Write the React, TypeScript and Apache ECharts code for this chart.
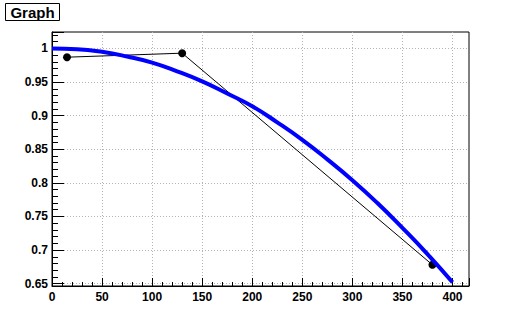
import React, { useEffect, useRef } from 'react';
import * as echarts from 'echarts';

// TGraph points
const graphX = [15, 130, 380];
const graphY = [0.987, 0.993, 0.678];

// Function curve, values
const curveX = [0, 25, 50, 75, 100, 125, 150, 175, 200, 225, 250, 275, 300, 325, 350, 375, 400];
const curveY = [1.0, 0.999, 0.995, 0.988, 0.979, 0.966, 0.951, 0.933, 0.914, 0.89, 0.864, 0.835, 0.804, 0.77, 0.733, 0.694, 0.652];

// Axis ranges and tick steps
const xRange = [0, 416.5];
const yRange = [0.6465, 1.0245];
const xStep = 50;
const yStep = 0.05;

const titleText = 'Graph';

export default function App() {
  const ref = useRef<HTMLDivElement>(null);

  useEffect(() => {
    document.body.style.margin = '0';
    const chart = echarts.init(ref.current as HTMLDivElement, null, { renderer: 'svg' });
    const font = 'Liberation Sans';
    const isMajor = (v: number, step: number) => Math.abs(v / step - Math.round(v / step)) < 1e-6;
    const gridLine = { show: true, showMinLine: false, showMaxLine: false, lineStyle: { color: '#b4b4b4', width: 1, type: [1, 2] } };
    const axisLine = { show: true, onZero: false, lineStyle: { color: '#000', width: 1 } };
    const label = { color: '#000', fontFamily: font, fontWeight: 'bold', fontSize: 12 };

    chart.setOption({
      animation: false,
      backgroundColor: '#ffffff',
      grid: {
        left: 52,
        top: 32,
        width: 417,
        height: 254,
        show: true,
        borderColor: '#000',
        borderWidth: 1,
        backgroundColor: 'transparent',
      },
      xAxis: {
        type: 'value',
        min: xRange[0],
        max: xRange[1],
        splitNumber: 8,
        axisLine,
        axisTick: { show: true, inside: true, length: 8, lineStyle: { color: '#000', width: 1 } },
        minorTick: { show: true, splitNumber: 5, length: 4, lineStyle: { color: '#000', width: 1 } },
        splitLine: gridLine,
        axisLabel: {
          ...label,
          margin: 5,
          formatter: (v: number) => (isMajor(v, xStep) ? String(Math.round(v)) : ''),
        },
      },
      yAxis: {
        type: 'value',
        min: yRange[0],
        max: yRange[1],
        splitNumber: 7,
        axisLine,
        axisTick: { show: true, inside: true, length: 12, lineStyle: { color: '#000', width: 1 } },
        minorTick: { show: true, splitNumber: 5, length: 6, lineStyle: { color: '#000', width: 1 } },
        splitLine: gridLine,
        axisLabel: {
          ...label,
          margin: 4,
          formatter: (v: number) => (isMajor(v, yStep) ? String(+v.toFixed(2)) : ''),
        },
      },
      series: [
        {
          type: 'line',
          data: graphX.map((x, i) => [x, graphY[i]]),
          symbol: 'circle',
          symbolSize: 8,
          itemStyle: { color: '#000' },
          lineStyle: { color: '#000', width: 1 },
          z: 2,
        },
        {
          type: 'line',
          data: curveX.map((x, i) => [x, curveY[i]]),
          symbol: 'none',
          smooth: true,
          lineStyle: { color: '#0000ff', width: 4 },
          z: 3,
        },
      ],
      graphic: [
        {
          type: 'group',
          left: 5,
          top: 3,
          children: [
            {
              type: 'rect',
              shape: { x: 0, y: 0, width: 54, height: 17 },
              style: { fill: '#fff', stroke: '#000', lineWidth: 1 },
            },
            {
              type: 'text',
              x: 27,
              y: 9,
              style: {
                text: titleText,
                align: 'center',
                verticalAlign: 'middle',
                font: 'bold 15px "Liberation Sans"',
                fill: '#000',
              },
            },
          ],
        },
      ],
    });

    return () => chart.dispose();
  }, []);

  return <div ref={ref} style={{ width: 522, height: 321 }} />;
}
